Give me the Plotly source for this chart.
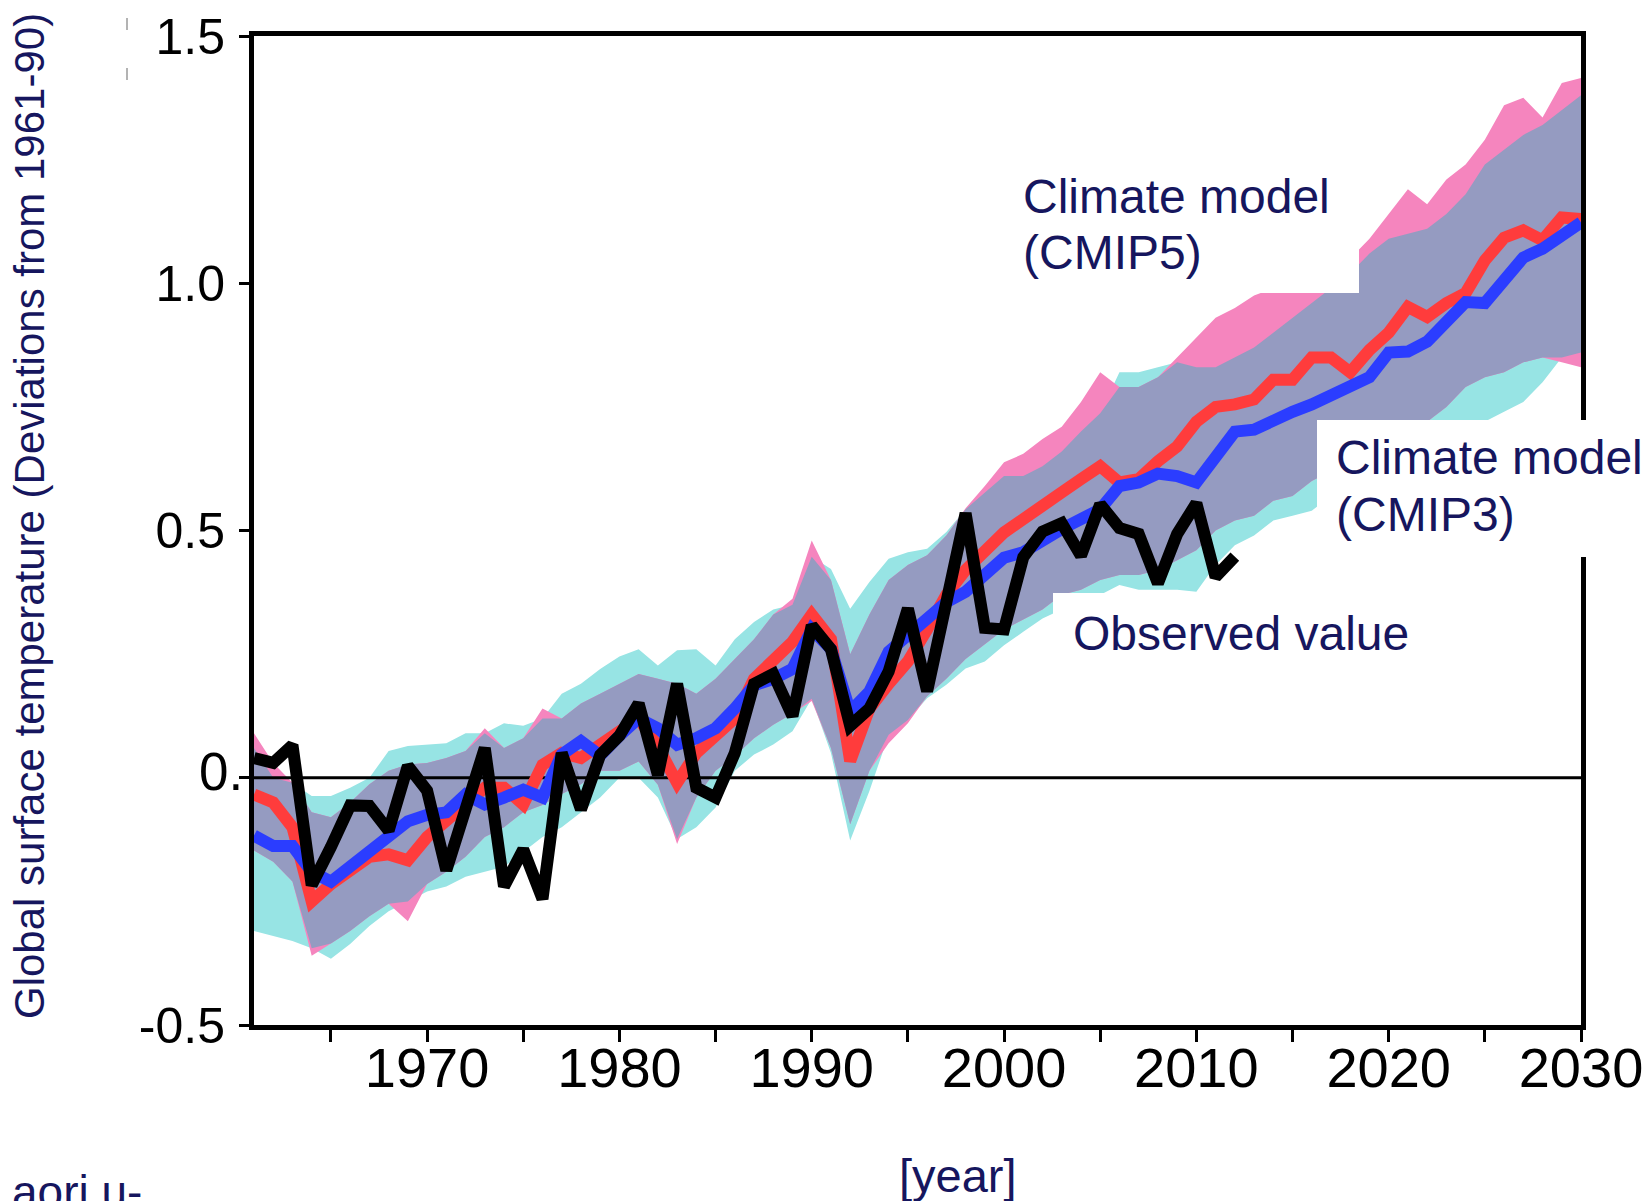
import plotly.graph_objects as go
import numpy as np

# ---------------- data ----------------
YEARS = list(range(1961, 2031))
OBS_YEARS = list(range(1961, 2013))

OBSERVED = [0.04, 0.03, 0.066, -0.217, -0.14, -0.056, -0.057, -0.107, 0.024, -0.026,
            -0.187, -0.07, 0.06, -0.22, -0.145, -0.245, 0.05, -0.064, 0.046, 0.085,
            0.15, 0.006, 0.19, -0.02, -0.04, 0.05, 0.19, 0.21, 0.125, 0.308,
            0.26, 0.105, 0.14, 0.215, 0.342, 0.175, 0.37, 0.535, 0.303, 0.3,
            0.446, 0.498, 0.515, 0.449, 0.553, 0.505, 0.493, 0.393, 0.493, 0.555,
            0.406, 0.447]

CMIP5_MEAN = [-0.034, -0.05, -0.1, -0.25, -0.215, -0.187, -0.16, -0.155, -0.167, -0.12,
              -0.087, -0.054, -0.02, -0.02, -0.054, 0.026, 0.05, 0.04, 0.066, 0.09,
              0.12, 0.063, -0.01, 0.05, 0.087, 0.12, 0.2, 0.24, 0.275, 0.33,
              0.28, 0.034, 0.14, 0.19, 0.235, 0.3, 0.37, 0.42, 0.456, 0.496,
              0.523, 0.547, 0.577, 0.604, 0.63, 0.597, 0.604, 0.64, 0.67, 0.72,
              0.75, 0.755, 0.765, 0.805, 0.805, 0.85, 0.85, 0.82, 0.865, 0.9,
              0.952, 0.932, 0.96, 0.98, 1.046, 1.092, 1.107, 1.087, 1.133, 1.13]

CMIP3_MEAN = [-0.117, -0.138, -0.138, -0.19, -0.21, -0.18, -0.147, -0.115, -0.088, -0.075,
              -0.07, -0.034, -0.054, -0.04, -0.024, -0.04, 0.047, 0.074, 0.045, 0.085,
              0.12, 0.1, 0.067, 0.08, 0.1, 0.14, 0.187, 0.2, 0.22, 0.3,
              0.26, 0.134, 0.174, 0.255, 0.288, 0.315, 0.355, 0.376, 0.41, 0.445,
              0.456, 0.483, 0.503, 0.523, 0.543, 0.59, 0.597, 0.615, 0.61, 0.597,
              0.65, 0.7, 0.704, 0.725, 0.74, 0.755, 0.775, 0.79, 0.81, 0.86,
              0.862, 0.882, 0.92, 0.962, 0.96, 1.006, 1.052, 1.07, 1.1, 1.123]

CMIP5_UPPER = [0.09, 0.03, -0.01, -0.07, -0.08, -0.05, -0.013, 0.014, 0.027, 0.03,
               0.04, 0.054, 0.10, 0.06, 0.08, 0.14, 0.12, 0.15, 0.17, 0.19,
               0.21, 0.20, 0.19, 0.17, 0.20, 0.24, 0.28, 0.33, 0.362, 0.48,
               0.40, 0.25, 0.33, 0.40, 0.43, 0.45, 0.49, 0.545, 0.59, 0.638,
               0.655, 0.685, 0.71, 0.76, 0.82, 0.79, 0.79, 0.81, 0.85, 0.89,
               0.93, 0.95, 0.975, 0.99, 1.0, 1.02, 1.03, 1.05, 1.09, 1.14,
               1.19, 1.16, 1.21, 1.24, 1.29, 1.36, 1.375, 1.335, 1.405, 1.415]

CMIP5_LOWER = [-0.147, -0.17, -0.21, -0.36, -0.335, -0.31, -0.28, -0.255, -0.29, -0.215,
               -0.19, -0.16, -0.12, -0.10, -0.07, -0.055, -0.033, -0.013, 0.014, 0.014,
               0.033, -0.014, -0.134, -0.04, 0.014, 0.044, 0.08, 0.107, 0.13, 0.155,
               0.06, -0.094, 0.014, 0.07, 0.11, 0.165, 0.20, 0.24, 0.27, 0.30,
               0.32, 0.34, 0.37, 0.38, 0.40, 0.41, 0.41, 0.42, 0.44, 0.46,
               0.50, 0.52, 0.53, 0.56, 0.57, 0.60, 0.62, 0.64, 0.66, 0.68,
               0.70, 0.72, 0.75, 0.79, 0.81, 0.82, 0.84, 0.85, 0.84, 0.83]

CMIP3_UPPER = [0.06, 0.0, -0.01, -0.037, -0.037, -0.02, 0.0, 0.054, 0.064, 0.067,
               0.07, 0.09, 0.09, 0.11, 0.105, 0.12, 0.17, 0.19, 0.22, 0.245,
               0.26, 0.227, 0.258, 0.26, 0.227, 0.28, 0.315, 0.34, 0.35, 0.447,
               0.422, 0.342, 0.396, 0.443, 0.456, 0.463, 0.497, 0.543, 0.577, 0.61,
               0.61, 0.63, 0.66, 0.70, 0.737, 0.82, 0.82, 0.83, 0.84, 0.83,
               0.83, 0.85, 0.87, 0.90, 0.93, 0.96, 0.99, 1.02, 1.06, 1.09,
               1.10, 1.11, 1.14, 1.18, 1.24, 1.27, 1.30, 1.32, 1.35, 1.38]

CMIP3_LOWER = [-0.31, -0.32, -0.33, -0.345, -0.366, -0.336, -0.30, -0.27, -0.25, -0.23,
               -0.22, -0.20, -0.19, -0.18, -0.15, -0.12, -0.10, -0.07, -0.04, 0.0,
               0.0, -0.04, -0.124, -0.10, -0.06, 0.014, 0.047, 0.067, 0.094, 0.16,
               0.05, -0.127, -0.027, 0.087, 0.117, 0.161, 0.188, 0.221, 0.235, 0.268,
               0.295, 0.322, 0.34, 0.35, 0.37, 0.39, 0.38, 0.38, 0.38, 0.376,
               0.43, 0.47, 0.49, 0.52, 0.53, 0.54, 0.57, 0.60, 0.62, 0.64,
               0.66, 0.67, 0.69, 0.70, 0.72, 0.74, 0.76, 0.80, 0.85, 0.86]

X_TICKS = list(range(1965, 2031, 5))
X_TICK_TEXT = [str(v) if v % 10 == 0 else "" for v in X_TICKS]
Y_TICKS = [-0.5, 0.0, 0.5, 1.0, 1.5]
Y_TICK_TEXT = ["-0.5", "", "0.5", "1.0", "1.5"]

LABEL_CMIP5 = ["Climate model", "(CMIP5)"]
LABEL_CMIP3 = ["Climate model", "(CMIP3)"]
LABEL_OBS = "Observed value"
Y_TITLE = "Global surface temperature (Deviations from 1961-90)"
X_TITLE = "[year]"
SOURCE = "aori.u-"

# ---------------- style ----------------
NAVY = "#16165e"
FONT = "Liberation Sans, Arial, sans-serif"
CYAN = "#97e4e4"
PINK = "#f585be"
OVERLAP = "#959bc1"
RED = "#ff3c3c"
BLUE = "#2b3dff"

W, H = 1647, 1201
ML, MR, MT, MB = 254, 66, 36, 176
PW = W - ML - MR
PH = H - MT - MB


def px(x):
    return (x - ML) / PW


def py(y):
    return (H - MB - y) / PH


fig = go.Figure()


def band(upper, lower, color):
    xs = YEARS + YEARS[::-1]
    ys = list(upper) + list(lower)[::-1]
    fig.add_trace(go.Scatter(x=xs, y=ys, mode="lines", fill="toself",
                             fillcolor=color, line=dict(width=0),
                             hoverinfo="skip", showlegend=False))


band(CMIP3_UPPER, CMIP3_LOWER, CYAN)
band(CMIP5_UPPER, CMIP5_LOWER, PINK)
ov_up = np.minimum(CMIP5_UPPER, CMIP3_UPPER).tolist()
ov_lo = np.maximum(CMIP5_LOWER, CMIP3_LOWER).tolist()
band(ov_up, ov_lo, OVERLAP)

# zero reference line
fig.add_trace(go.Scatter(x=[YEARS[0], YEARS[-1]], y=[0, 0], mode="lines",
                         line=dict(color="black", width=3), hoverinfo="skip",
                         showlegend=False))

fig.add_trace(go.Scatter(x=YEARS, y=CMIP5_MEAN, mode="lines",
                         line=dict(color=RED, width=12), showlegend=False))
fig.add_trace(go.Scatter(x=YEARS, y=CMIP3_MEAN, mode="lines",
                         line=dict(color=BLUE, width=12), showlegend=False))
fig.add_trace(go.Scatter(x=OBS_YEARS, y=OBSERVED, mode="lines",
                         line=dict(color="black", width=12), showlegend=False))

axis_common = dict(showline=True, linewidth=5, linecolor="black", mirror=True,
                   ticks="outside", tickwidth=3, tickcolor="black",
                   showgrid=False, zeroline=False, automargin=False,
                   ticklabeloverflow="allow")

fig.update_layout(
    width=W, height=H,
    margin=dict(l=ML, r=MR, t=MT, b=MB, pad=0, autoexpand=False),
    paper_bgcolor="white", plot_bgcolor="white",
    xaxis=dict(range=[1961, 2030], tickvals=X_TICKS, ticktext=X_TICK_TEXT,
               ticklen=12, tickfont=dict(family=FONT, size=56, color="black"),
               ticklabelstandoff=-22, **axis_common),
    yaxis=dict(range=[-0.5, 1.5], tickvals=Y_TICKS, ticktext=Y_TICK_TEXT,
               ticklen=10, tickfont=dict(family=FONT, size=50, color="black"),
               ticklabelstandoff=4, **axis_common),
)

# white label boxes (drawn over the data, as in the original)
boxes = [(990, 140, 1359, 293), (1317, 420, 1660, 557), (1053, 593, 1370, 700)]
shapes = []
for x0, y0, x1, y1 in boxes:
    shapes.append(dict(type="rect", xref="paper", yref="paper",
                       x0=px(x0), x1=px(x1), y0=py(y1), y1=py(y0),
                       fillcolor="white", line=dict(width=0), layer="above"))
# faint marks at top-left
for y0, y1 in [(18, 30), (68, 80)]:
    shapes.append(dict(type="line", xref="paper", yref="paper",
                       x0=px(127), x1=px(127), y0=py(y1), y1=py(y0),
                       line=dict(color="#9a9a9a", width=1.5), layer="above"))
fig.update_layout(shapes=shapes)

ann = []
def label(text, x, y, size=48, color=NAVY, xanchor="left", **kw):
    ann.append(dict(text=text, xref="paper", yref="paper", x=px(x), y=py(y),
                    xanchor=xanchor, yanchor="middle", showarrow=False,
                    font=dict(family=FONT, size=size, color=color), **kw))

label(LABEL_CMIP5[0], 1021, 196)
label(LABEL_CMIP5[1], 1021, 252)
label(LABEL_CMIP3[0], 1334, 457)
label(LABEL_CMIP3[1], 1334, 514)
label(LABEL_OBS, 1071, 633)
label(Y_TITLE, 29, 516, size=42, xanchor="center", textangle=-90)
label(X_TITLE, 958, 1175, size=47, xanchor="center")
label(SOURCE, 10, 1192, size=46)
# truncated zero tick label
ann.append(dict(text="0.", xref="paper", yref="y", x=px(245), y=0,
                xanchor="right", yanchor="middle", showarrow=False, yshift=6,
                font=dict(family=FONT, size=53, color="black")))
fig.update_layout(annotations=ann)

fig.write_html("out.html")
